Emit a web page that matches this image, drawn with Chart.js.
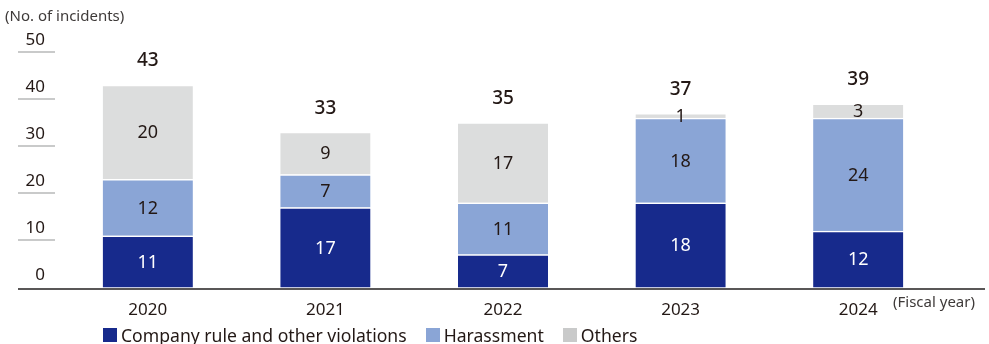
<!DOCTYPE html>
<html>
<head>
<meta charset="utf-8">
<script src="https://cdn.jsdelivr.net/npm/chart.js@4.4.1/dist/chart.umd.min.js"></script>
<style>
	body { margin: 0; background: #fff; }
	#wrap { position: relative; width: 989px; height: 344px; }
	#legend {
		position: absolute; left: 103px; top: 323px;
		display: flex; align-items: center;
		font: 17.6px "Noto Sans", sans-serif; color: #231815;
	}
	#legend span.item { display: flex; align-items: center; margin-right: 19px; }
	#legend span.box { width: 14px; height: 14px; margin-right: 4px; display: inline-block; }
</style>
</head>
<body>
<div id="wrap">
	<canvas id="incidentsChart" width="989" height="344"></canvas>
	<div id="legend"></div>
</div>
<script>
const years = ["2020", "2021", "2022", "2023", "2024"];
const ruleViolations = [11, 17, 7, 18, 12];
const harassment = [12, 7, 11, 18, 24];
const others = [20, 9, 17, 1, 3];
const seriesNames = ["Company rule and other violations", "Harassment", "Others"];
const yTicks = [0, 10, 20, 30, 40, 50];

const colors = ["#172a8c", "#8aa5d6", "#dcdddd"];
const legendColors = ["#172a8c", "#8aa5d6", "#c9caca"];
const textColor = "#231815";
const font = "'Noto Sans', sans-serif";

const incidentsCanvas = document.getElementById("incidentsChart");

// draws the short tick lines, baseline, totals, segment values and side captions
const decorations = {
	id: "decorations",
	afterDatasetsDraw(chart) {
		const ctx = chart.ctx;
		const y = chart.scales.y;
		const x = chart.scales.x;
		ctx.save();
		// short grid lines on the left
		ctx.strokeStyle = "#c9caca";
		ctx.lineWidth = 2;
		yTicks.forEach((t) => {
			if (t === 0) return;
			const py = Math.round(y.getPixelForValue(t));
			ctx.beginPath();
			ctx.moveTo(18, py);
			ctx.lineTo(55, py);
			ctx.stroke();
		});
		// baseline
		ctx.strokeStyle = "#595757";
		ctx.beginPath();
		ctx.moveTo(18, Math.round(y.getPixelForValue(0)) + 1);
		ctx.lineTo(985, Math.round(y.getPixelForValue(0)) + 1);
		ctx.stroke();

		// segment values
		ctx.textAlign = "center";
		ctx.textBaseline = "middle";
		ctx.font = "18px " + font;
		chart.data.datasets.forEach((ds, di) => {
			const meta = chart.getDatasetMeta(di);
			meta.data.forEach((bar, i) => {
				const v = ds.data[i];
				if (!v) return;
				ctx.fillStyle = di === 0 ? "#ffffff" : textColor;
				ctx.fillText(String(v), bar.x, (bar.y + bar.base) / 2 + 1);
			});
		});

		// totals
		ctx.font = "500 19px " + font;
		ctx.fillStyle = textColor;
		years.forEach((yr, i) => {
			const total = ruleViolations[i] + harassment[i] + others[i];
			ctx.fillText(String(total), x.getPixelForValue(i), y.getPixelForValue(total) - 24);
		});

		// captions
		ctx.font = "15px " + font;
		ctx.fillStyle = "#3e3a39";
		ctx.textAlign = "left";
		ctx.fillText("(No. of incidents)", 5, 17);
		ctx.fillText("(Fiscal year)", 893, 303);
		ctx.restore();
	},
};

new Chart(incidentsCanvas, {
	type: "bar",
	data: {
		labels: years,
		datasets: [ruleViolations, harassment, others].map((d, i) => ({
			label: seriesNames[i],
			data: d,
			backgroundColor: colors[i],
			borderColor: "#ffffff",
			borderWidth: { top: 1.5, bottom: 0, left: 0, right: 0 },
			borderSkipped: false,
			barThickness: 90,
		})),
	},
	options: {
		responsive: false,
		animation: { duration: 0 },
		layout: {
			padding: { top: 52, right: 42, bottom: 20, left: 0 },
		},
		scales: {
			x: {
				stacked: true,
				grid: { display: false },
				border: { display: false },
				ticks: {
					color: textColor,
					font: { family: font, size: 17 },
					padding: 4,
				},
			},
			y: {
				stacked: true,
				min: 0,
				max: 50,
				afterFit(scale) {
					scale.width = 59;
				},
				afterBuildTicks(scale) {
					scale.ticks = yTicks.map((v) => ({ value: v }));
				},
				grid: { display: false, drawTicks: false },
				border: { display: false },
				ticks: {
					color: textColor,
					font: { family: font, size: 17 },
					padding: 14,
					labelOffset: -12,
				},
			},
		},
		plugins: {
			legend: { display: false },
			tooltip: { enabled: false },
		},
	},
	plugins: [decorations],
});

const legendEl = document.getElementById("legend");
seriesNames.forEach((name, i) => {
	const item = document.createElement("span");
	item.className = "item";
	const box = document.createElement("span");
	box.className = "box";
	box.style.background = legendColors[i];
	item.appendChild(box);
	item.appendChild(document.createTextNode(name));
	legendEl.appendChild(item);
});
</script>
</body>
</html>
